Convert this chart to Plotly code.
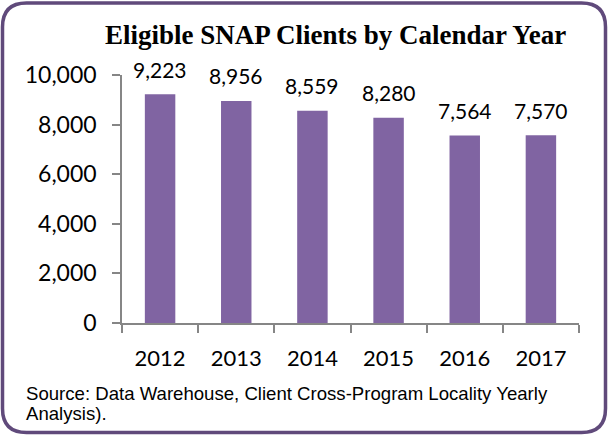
import plotly.graph_objects as go

years = ["2012", "2013", "2014", "2015", "2016", "2017"]
clients = [9223, 8956, 8559, 8280, 7564, 7570]
value_labels = ["9,223", "8,956", "8,559", "8,280", "7,564", "7,570"]
y_ticks = [0, 2000, 4000, 6000, 8000, 10000]
y_tick_labels = ["0", "2,000", "4,000", "6,000", "8,000", "10,000"]

title_text = "Eligible SNAP Clients by Calendar Year"
source_line1 = "Source: Data Warehouse, Client Cross-Program Locality Yearly"
source_line2 = "Analysis)."

W, H = 608, 436
L, T = 122, 75
R = W - 579
B = H - 323
pw, ph = W - L - R, H - T - B

def px(x):
    return (x - L) / pw

def py(y):
    return (H - B - y) / ph

fig = go.Figure()
fig.add_trace(go.Bar(
    x=years, y=clients, marker=dict(color="#8064A2", line=dict(width=0)),
    hoverinfo="skip",
))

for i, (v, lab) in enumerate(zip(clients, value_labels)):
    fig.add_annotation(x=i, y=v, xref="x", yref="y", text=lab, showarrow=False,
                       yanchor="middle", yshift=25,
                       font=dict(family="Lato", size=21, color="#000000"))

# rounded border
x0, x1, y0, y1, r = 2.5, 605.5, 3, 432.5, 24
path = (f"M {px(x0 + r)},{py(y0)} L {px(x1 - r)},{py(y0)} "
        f"Q {px(x1)},{py(y0)} {px(x1)},{py(y0 + r)} "
        f"L {px(x1)},{py(y1 - r)} Q {px(x1)},{py(y1)} {px(x1 - r)},{py(y1)} "
        f"L {px(x0 + r)},{py(y1)} Q {px(x0)},{py(y1)} {px(x0)},{py(y1 - r)} "
        f"L {px(x0)},{py(y0 + r)} Q {px(x0)},{py(y0)} {px(x0 + r)},{py(y0)} Z")
fig.add_shape(type="path", path=path, xref="paper", yref="paper",
              line=dict(color="#604A7B", width=3.5), layer="above")

fig.add_annotation(x=px(335), y=py(35), xref="paper", yref="paper", text=f"<b>{title_text}</b>",
                   showarrow=False, xanchor="center", yanchor="middle",
                   font=dict(family="Liberation Serif", size=27, color="#000000"))

fig.add_annotation(x=px(24), y=py(393), xref="paper", yref="paper", text=source_line1,
                   showarrow=False, xanchor="left", yanchor="middle", align="left",
                   font=dict(family="Liberation Sans", size=18.6, color="#000000"))
fig.add_annotation(x=px(24), y=py(413), xref="paper", yref="paper", text=source_line2,
                   showarrow=False, xanchor="left", yanchor="middle", align="left",
                   font=dict(family="Liberation Sans", size=18.6, color="#000000"))

fig.update_layout(
    width=W, height=H,
    margin=dict(l=L, r=R, t=T, b=B, pad=0),
    paper_bgcolor="#ffffff", plot_bgcolor="#ffffff",
    bargap=0.6, showlegend=False,
    xaxis=dict(type="category", range=[-0.5, len(years) - 0.5], tickson="boundaries",
               ticks="outside", ticklen=8,
               tickcolor="#868686", tickwidth=1.5, showline=True, linecolor="#868686",
               linewidth=1.5, showgrid=False, ticklabelstandoff=15,
               tickfont=dict(family="Lato", size=22, color="#000000")),
    yaxis=dict(range=[0, 10000], tickvals=y_ticks, ticktext=y_tick_labels, ticks="outside",
               ticklen=8, tickcolor="#868686", tickwidth=1.5, showline=True,
               linecolor="#868686", linewidth=1.5, showgrid=False, zeroline=False,
               ticklabelstandoff=11,
               tickfont=dict(family="Lato", size=23, color="#000000")),
)

fig.write_html("out.html", config={"displayModeBar": False},
               post_script="document.body.style.margin='0';")
